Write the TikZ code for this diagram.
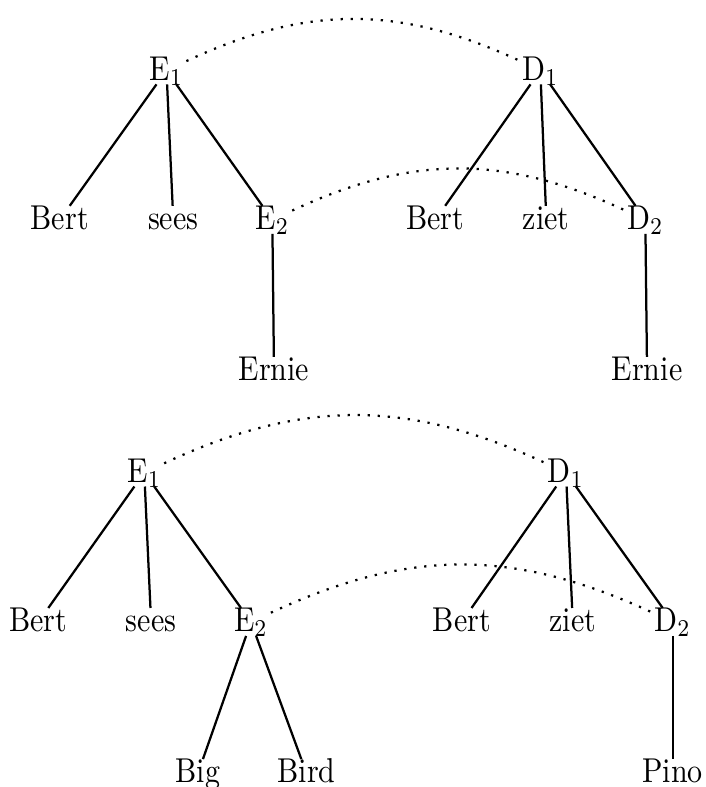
\documentclass[tikz,border=0pt]{standalone}
\usepackage{tikz}
\usetikzlibrary{positioning}

\begin{document}
\begin{tikzpicture}
	[word/.style={anchor=base,inner sep=0.8pt,text height=5.9pt,text depth=0.2pt},
	branch/.style={black,line width=0.75pt},
	link/.style={black,line width=0.75pt,dash pattern=on 0.75pt off 2.6pt,bend left=22},
	yscale=1.15,transform shape]
	\useasboundingbox (0,0) rectangle (8.26,-8.017);
	%  bovenste bomen (Ernie)
	\node[word] (tE1) at (1.95,-0.817) {E$_1$};
	\node[word] (tBertE) at (0.70,-2.339) {Bert};
	\node[word] (tSees) at (2.03,-2.339) {sees};
	\node[word] (tE2) at (3.19,-2.339) {E$_2$};
	\node[word] (tErnieE) at (3.21,-3.878) {Ernie};
	\node[word] (tD1) at (6.33,-0.817) {D$_1$};
	\node[word] (tBertD) at (5.10,-2.339) {Bert};
	\node[word] (tZiet) at (6.40,-2.339) {ziet};
	\node[word] (tD2) at (7.56,-2.339) {D$_2$};
	\node[word] (tErnieD) at (7.58,-3.878) {Ernie};
	\draw[branch] (tE1) -- (tBertE);
	\draw[branch] (tE1) -- (tSees);
	\draw[branch] (tE1) -- (tE2);
	\draw[branch] (tE2) -- (tErnieE);
	\draw[branch] (tD1) -- (tBertD);
	\draw[branch] (tD1) -- (tZiet);
	\draw[branch] (tD1) -- (tD2);
	\draw[branch] (tD2) -- (tErnieD);
	\draw[link] (tE1) to (tD1);
	\draw[link] (tE2) to (tD2);
	%  onderste bomen (Big Bird / Pino)
	\node[word] (bE1) at (1.69,-4.913) {E$_1$};
	\node[word] (bBertE) at (0.45,-6.435) {Bert};
	\node[word] (bSees) at (1.77,-6.435) {sees};
	\node[word] (bE2) at (2.94,-6.435) {E$_2$};
	\node[word] (bBig) at (2.32,-7.974) {Big};
	\node[word] (bBird) at (3.59,-7.974) {Bird};
	\node[word] (bD1) at (6.63,-4.913) {D$_1$};
	\node[word] (bBertD) at (5.41,-6.435) {Bert};
	\node[word] (bZiet) at (6.71,-6.435) {ziet};
	\node[word] (bD2) at (7.88,-6.435) {D$_2$};
	\node[word] (bPino) at (7.88,-7.974) {Pino};
	\draw[branch] (bE1) -- (bBertE);
	\draw[branch] (bE1) -- (bSees);
	\draw[branch] (bE1) -- (bE2);
	\draw[branch] (bE2) -- (bBig);
	\draw[branch] (bE2) -- (bBird);
	\draw[branch] (bD1) -- (bBertD);
	\draw[branch] (bD1) -- (bZiet);
	\draw[branch] (bD1) -- (bD2);
	\draw[branch] (bD2) -- (bPino);
	\draw[link] (bE1) to (bD1);
	\draw[link] (bE2) to (bD2);
\end{tikzpicture}
\end{document}
